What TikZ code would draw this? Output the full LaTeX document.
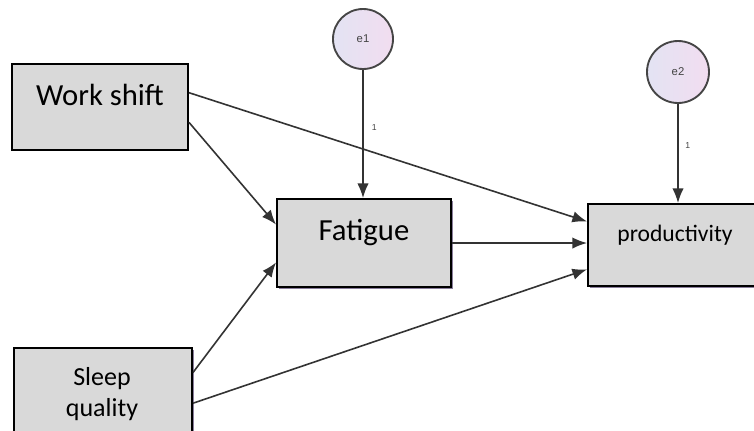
\documentclass[tikz,border=0pt]{standalone}
\usepackage{fontspec}
\setmainfont{Carlito}
\newfontfamily\arialf{Liberation Sans}
\usetikzlibrary{arrows.meta,calc,shadows}
\definecolor{boxgray}{HTML}{D9D9D9}
\definecolor{shadowpurple}{HTML}{8A7E9C}
\definecolor{linegray}{HTML}{333333}
\definecolor{circborder}{HTML}{454545}
\definecolor{lavleft}{HTML}{E3E3F3}
\definecolor{lavright}{HTML}{F2DDF0}
\definecolor{labgray}{HTML}{444444}
\begin{document}
\begin{tikzpicture}[x=0.75pt,y=-0.75pt,
  box/.style={draw=black, line width=1.4pt, fill=boxgray, inner sep=0pt, rectangle},
  shbox/.style={box, drop shadow={shadow xshift=1.6pt, shadow yshift=-1.2pt, fill=shadowpurple, opacity=1}},
  latent/.style={circle, draw=circborder, line width=1.4pt, inner sep=0pt,
    left color=lavleft, right color=lavright, font=\arialf\fontsize{8.5}{10}\selectfont, text=labgray},
  regpath/.style={draw=linegray, line width=1.2pt, -{Latex[length=11pt,width=8.5pt]}},
  bigtxt/.style={font=\fontsize{23}{28}\selectfont, anchor=base, inner sep=0pt},
  midtxt/.style={font=\fontsize{17.7}{21}\selectfont, anchor=base, inner sep=0pt},
  sqtxt/.style={font=\fontsize{19.5}{24}\selectfont, anchor=base, inner sep=0pt},
  onelbl/.style={font=\arialf\fontsize{6.5}{8}\selectfont, text=labgray, inner sep=0pt}]
\useasboundingbox (0,0) rectangle (754,430);
\clip (0,0) rectangle (754,430);
\fill[white] (0,0) rectangle (754,430);

% boxes
\node[box, minimum width=132pt, minimum height=64.5pt] (ws) at (100,107) {};
\node[shbox, minimum width=130.5pt, minimum height=66pt] (fat) at (364,243) {};
\node[shbox, minimum width=130.5pt, minimum height=61.5pt] (prod) at (675,245) {};
\node[shbox, minimum width=133.5pt, minimum height=66pt] (sq) at (103,392) {};

% box texts
\node[bigtxt] (wst) at (100,105) {Work shift};
\node[bigtxt] (fatt) at (364,240) {Fatigue};
\node[midtxt] (prodt) at (675,241) {productivity};
\node[sqtxt] (sqt1) at (102,385) {Sleep};
\node[sqtxt] (sqt2) at (102,416) {quality};

% latent error terms
\node[latent, minimum size=45pt] (e1) at (363,39) {e1};
\node[latent, minimum size=46.5pt] (e2) at (678,72) {e2};

% regression paths
\draw[regpath] ($(ws.north east)!0.337!(ws.south east)$) -- ($(prod.north west)!0.22!(prod.south west)$);
\draw[regpath] ($(ws.north east)!0.674!(ws.south east)$) -- ($(fat.north west)!0.295!(fat.south west)$);
\draw[regpath] ($(sq.north east)!0.284!(sq.south east)$) -- ($(fat.north west)!0.716!(fat.south west)$);
\draw[regpath] ($(sq.north east)!0.625!(sq.south east)$) -- ($(prod.north west)!0.79!(prod.south west)$);
\draw[regpath] (fat.east) -- (prod.west |- fat.east);

% error paths
\draw[regpath] (e1.south) -- (e1.south |- fat.north) node[onelbl, pos=0.45, right=6pt] (one1) {1};
\draw[regpath] (e2.south) -- (e2.south |- prod.north) node[onelbl, pos=0.42, right=5pt] (one2) {1};
\end{tikzpicture}
\end{document}
